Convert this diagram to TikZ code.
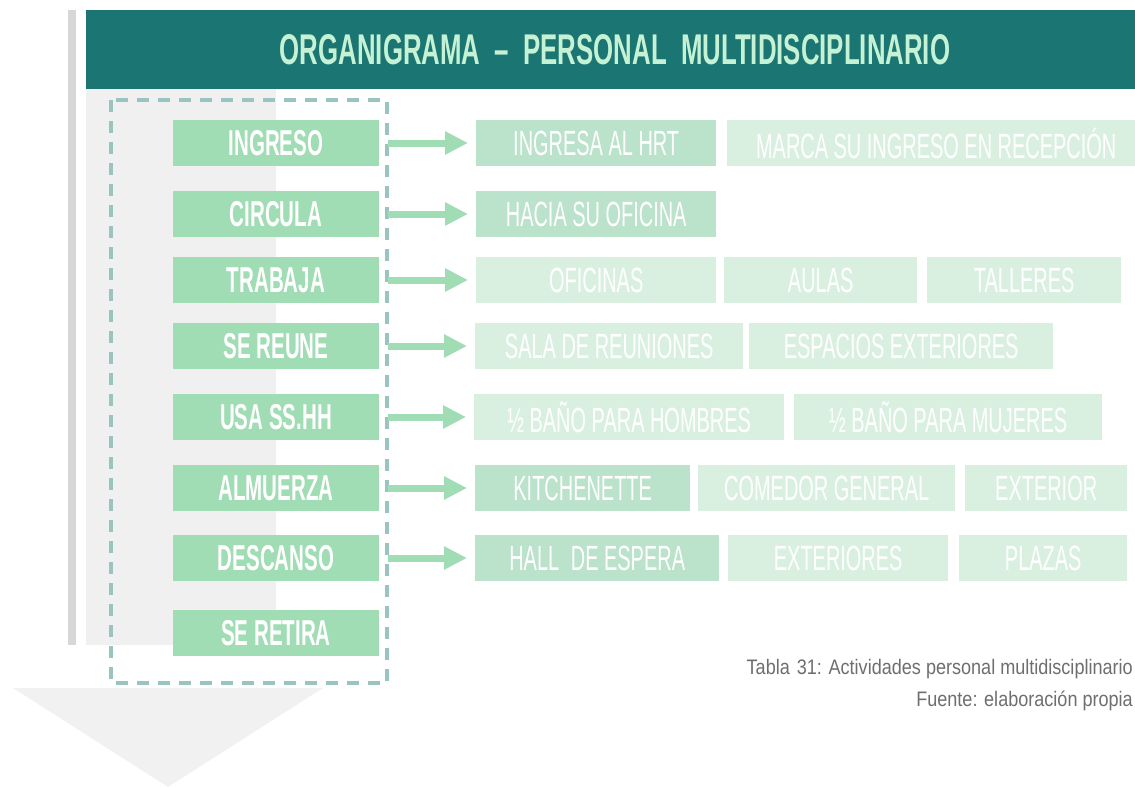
\documentclass[tikz,border=0pt]{standalone}
\usepackage{fontspec}
\usetikzlibrary{arrows.meta,positioning}
\newfontfamily\agency[FakeStretch=0.57]{Liberation Sans}
\newfontfamily\agencyhead[FakeStretch=0.6]{Liberation Sans}
\newfontfamily\agencycap[FakeStretch=0.86]{Liberation Sans}
\definecolor{headteal}{HTML}{1B7572}
\definecolor{titlegreen}{HTML}{C5F2D5}
\definecolor{actgreen}{HTML}{A0DCB4}
\definecolor{midgreen}{HTML}{BBE2CA}
\definecolor{palegreen}{HTML}{D9F0E1}
\definecolor{dashteal}{HTML}{99C4C0}
\definecolor{bargray}{HTML}{D7D7D7}
\definecolor{bggray}{HTML}{F0F0F0}
\definecolor{capgray}{HTML}{6E6E6E}
\tikzset{act/.style={fill=actgreen,text=white,font=\agency\bfseries\fontsize{36}{36}\selectfont,minimum width=206pt,minimum height=46pt,inner sep=0pt}, place/.style={fill=#1,text=white,font=\agency\fontsize{35}{35}\selectfont,minimum height=46pt,inner sep=0pt,anchor=west}, arr/.style={-{Triangle[length=23pt,width=22pt]},line width=7pt,draw=actgreen,shorten <=9pt,shorten >=8pt}, dashbox/.style={draw=dashteal,line width=3.2pt,dash pattern=on 12pt off 9pt}, captext/.style={anchor=base east,inner sep=0pt,text=capgray,font=\agencycap\fontsize{21}{21}\selectfont}}

\begin{document}
\begin{tikzpicture}[x=1pt,y=-1pt]
\useasboundingbox (0,0) rectangle (1135,787);
% background bands
\fill[bargray](68,10) rectangle (76,645);\fill[headteal](86,10) rectangle (1135,89);\fill[bggray](86,89) rectangle (276,645);
\fill[bggray!95!white](13,688) -- (323,688) -- (168,787) -- cycle;
\draw[dashbox](111,100) rectangle (387,683);
\node[font=\agencyhead\bfseries\fontsize{43}{43}\selectfont,text=titlegreen](title) at (615,50){ORGANIGRAMA\,\,–\,\,PERSONAL\,\,MULTIDISCIPLINARIO};
% activities
\foreach \n/\y/\t in {ing/143/INGRESO,cir/214/CIRCULA,tra/280/TRABAJA,reu/346/SE REUNE,ssh/417/USA SS.HH,alm/488/ALMUERZA,des/558/DESCANSO,ret/633/SE RETIRA}{\node[act](\n) at (276,\y){\t};}
% places
\foreach \n/\a/\b/\y/\c/\t in {ing1/476/716/143/midgreen/INGRESA AL HRT,ing2/727/1145/143/palegreen/MARCA SU INGRESO EN RECEPCIÓN,cir1/476/716/214/midgreen/HACIA SU OFICINA,tra1/476/716/280/palegreen/OFICINAS,tra2/724/917/280/palegreen/AULAS,tra3/927/1121/280/palegreen/TALLERES,reu1/475/743/346/palegreen/SALA DE REUNIONES,reu2/749/1053/346/palegreen/ESPACIOS EXTERIORES,ssh1/474/784/417/palegreen/½ BAÑO PARA HOMBRES,ssh2/794/1102/417/palegreen/½ BAÑO PARA MUJERES,alm1/475/690/488/midgreen/KITCHENETTE,alm2/698/955/488/palegreen/COMEDOR GENERAL,alm3/965/1127/488/palegreen/EXTERIOR,des1/475/719/558/midgreen/HALL\,\,DE ESPERA,des2/728/948/558/palegreen/EXTERIORES,des3/959/1127/558/palegreen/PLAZAS}{\pgfmathsetmacro\w{\b-\a}\node[place=\c,minimum width=\w pt](\n) at (\a,\y){\t};}
\foreach \r in {ing,cir,tra,reu,ssh,alm,des}{\draw[arr](\r)--(\r1);}
\node[captext](caption1) at (1133,674){Tabla\,\,31: Actividades personal multidisciplinario};
\node[captext](caption2) at (1133,706){Fuente: elaboración propia};
\end{tikzpicture}
\end{document}
